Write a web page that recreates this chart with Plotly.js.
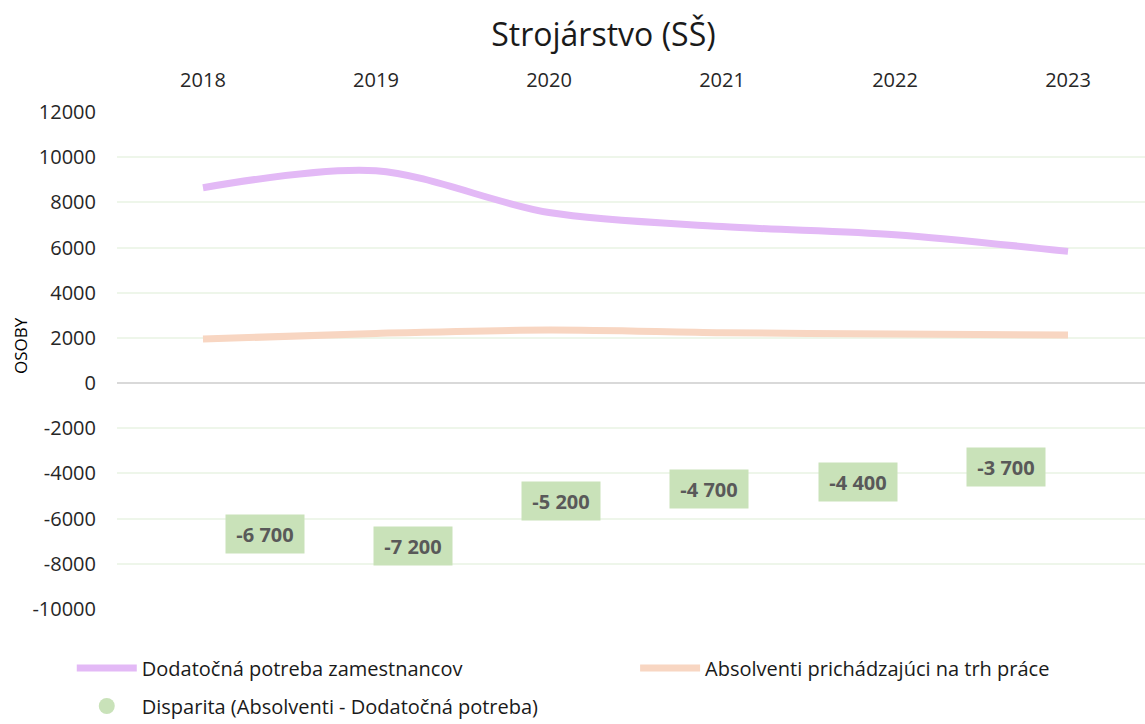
<!DOCTYPE html>
<html>
<head>
<meta charset="utf-8">
<script src="https://cdn.plot.ly/plotly-3.0.1.min.js"></script>
<style>html,body{margin:0;padding:0;background:#fff;}#chart{width:1145px;height:724px;}</style>
</head>
<body>
<div id="chart"></div>
<script>
const years = ['2018', '2019', '2020', '2021', '2022', '2023'];
const potreba = [8650, 9400, 7550, 6930, 6570, 5830];
const absolventi = [1950, 2200, 2350, 2230, 2170, 2130];
const disparita = [-6700, -7200, -5200, -4700, -4400, -3700];
const disparitaPos = [1, 2, 3, 4, 5, 6];
const disparitaLabels = ['-6 700', '-7 200', '-5 200', '-4 700', '-4 400', '-3 700'];
const yTicks = [-10000, -8000, -6000, -4000, -2000, 0, 2000, 4000, 6000, 8000, 10000, 12000];

const FONT = 'Open Sans, Noto Sans, sans-serif';
const traces = [
  {
    x: years, y: potreba, type: 'scatter', mode: 'lines',
    name: 'Dodatočná potreba zamestnancov',
    line: {color: '#e3b9f6', width: 7, shape: 'spline', smoothing: 0.9},
    legend: 'legend'
  },
  {
    x: years, y: absolventi, type: 'scatter', mode: 'lines',
    name: 'Absolventi prichádzajúci na trh práce',
    line: {color: '#f8d6c2', width: 7, shape: 'spline', smoothing: 0.9},
    legend: 'legend3'
  },
  {
    x: disparitaPos, y: disparita, type: 'scatter', mode: 'markers',
    xaxis: 'x2',
    name: 'Disparita (Absolventi - Dodatočná potreba)',
    marker: {color: '#c9e2b9', size: 16},
    legend: 'legend2'
  }
];

const annotations = disparita.map((v, i) => ({
  x: disparitaPos[i], y: v, xref: 'x2', yref: 'y',
  text: '<b>' + disparitaLabels[i] + '</b>',
  showarrow: false,
  bgcolor: '#c9e2b9',
  width: 78, height: 38, borderpad: 0,
  font: {family: FONT, size: 20, color: '#595959'}
}));
annotations.push({
  text: 'OSOBY', xref: 'paper', yref: 'paper', x: (20 - 117) / 1028, y: (609 - 346) / 497,
  xanchor: 'center', yanchor: 'middle', textangle: -90, showarrow: false,
  font: {family: FONT, size: 17, color: '#000000'}
});

const legendBase = {
  orientation: 'h', xanchor: 'left', yanchor: 'middle', yref: 'container',
  font: {family: FONT, size: 20, color: '#1a1a1a'},
  bgcolor: 'rgba(0,0,0,0)', itemwidth: 60
};

const layout = {
  width: 1145, height: 724,
  margin: {l: 117, r: 0, t: 112, b: 115},
  paper_bgcolor: '#ffffff', plot_bgcolor: '#ffffff',
  title: {text: 'Strojárstvo (SŠ)', x: 0.527, xanchor: 'center', y: 0.952, yanchor: 'middle',
          font: {family: FONT, size: 32, color: '#1a1a1a'}},
  font: {family: FONT, color: '#404040'},
  xaxis: {
    type: 'category', side: 'top', range: [-0.497, 5.445],
    showgrid: false, zeroline: false, showline: false, ticks: '',
    tickfont: {family: FONT, size: 20, color: '#262626'},
    ticklabelstandoff: 20, fixedrange: true
  },
  xaxis2: {
    overlaying: 'x', range: [0.001, 6.94], visible: false, fixedrange: true
  },
  yaxis: {
    range: [-10000, 12000], tickvals: yTicks, ticktext: yTicks.map(String),
    showgrid: true, gridcolor: '#eef6ea', gridwidth: 2,
    zeroline: true, zerolinecolor: '#d9d9d9', zerolinewidth: 2,
    showline: false, ticks: '',
    tickfont: {family: FONT, size: 20, color: '#262626'},
    ticklabelstandoff: 20,
    fixedrange: true
  },
  showlegend: true,
  legend: Object.assign({}, legendBase, {x: -0.044, y: 1 - 668 / 724}),
  legend3: Object.assign({}, legendBase, {x: 0.504, y: 1 - 668 / 724}),
  legend2: Object.assign({}, legendBase, {x: -0.044, y: 1 - 706 / 724}),
  annotations: annotations
};

Plotly.newPlot('chart', traces, layout, {displayModeBar: false, staticPlot: true});
</script>
</body>
</html>
